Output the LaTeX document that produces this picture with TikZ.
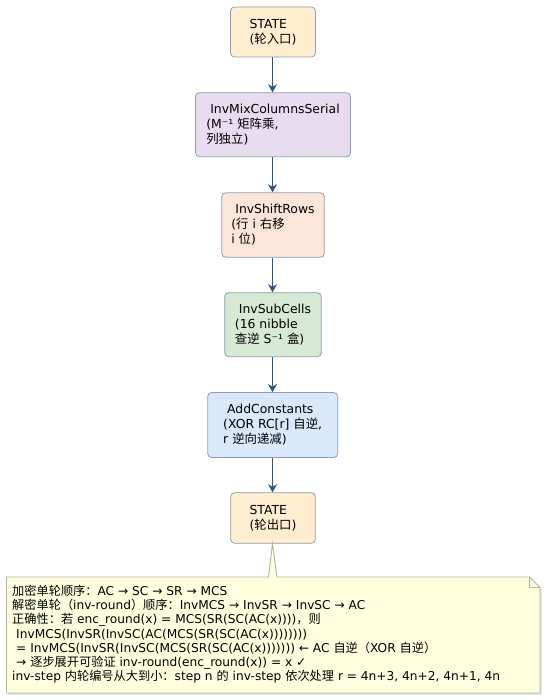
\documentclass[tikz,border=0pt]{standalone}
\usepackage{fontspec}
\setmainfont{DejaVu Sans}
\newfontfamily\cjk{Noto Sans CJK SC}
\usetikzlibrary{arrows.meta}
\definecolor{bordercol}{HTML}{8C9DB5}
\definecolor{statefill}{HTML}{FFEDCF}
\definecolor{mixfill}{HTML}{E7DCF0}
\definecolor{shiftfill}{HTML}{FAE5D8}
\definecolor{subfill}{HTML}{D6E9D4}
\definecolor{acfill}{HTML}{DAE8FB}
\definecolor{arrowcol}{HTML}{2C5784}
\definecolor{notefill}{HTML}{FFFFDF}
\definecolor{noteborder}{HTML}{B4B4A4}
\begin{document}
\begin{tikzpicture}[x=1pt,y=-1pt,
  opbox/.style={draw=bordercol, line width=0.8pt, rounded corners=4pt, align=left, inner sep=0pt,
    font=\fontsize{12.4}{15}\selectfont},
  flow/.style={draw=arrowcol, line width=1.2pt, -{Stealth[length=8pt,width=9pt,inset=2.5pt]}},
  notetext/.style={align=left, inner sep=0pt, anchor=north west, font=\fontsize{12.2}{14.2}\selectfont}
]
\useasboundingbox (0,0) rectangle (547,700);
\fill[white] (0,0) rectangle (547,700);

\node[opbox, fill=statefill, minimum width=85pt, minimum height=50pt] (s1) at (273,32) {STATE\\({\cjk 轮入口})};
\node[opbox, fill=mixfill, minimum width=155pt, minimum height=64pt] (mix) at (273,124.7) {\hspace*{4pt}InvMixColumnsSerial\\(M⁻¹ {\cjk 矩阵乘},\\{\cjk 列独立})};
\node[opbox, fill=shiftfill, minimum width=102.6pt, minimum height=64.6pt] (shift) at (273,225) {\hspace*{4pt}InvShiftRows\\({\cjk 行} i {\cjk 右移}\\i {\cjk 位})};
\node[opbox, fill=subfill, minimum width=96.6pt, minimum height=64pt] (sub) at (273,324.7) {\hspace*{4pt}InvSubCells\\(16 nibble\\{\cjk 查逆} S⁻¹ {\cjk 盒})};
\node[opbox, fill=acfill, minimum width=130pt, minimum height=65pt] (ac) at (272.7,425) {\hspace*{4pt}AddConstants\\(XOR RC[r] {\cjk 自逆},\\r {\cjk 逆向递减})};
\node[opbox, fill=statefill, minimum width=84.6pt, minimum height=50.6pt] (s2) at (273,518) {STATE\\({\cjk 轮出口})};

\draw[flow] (s1.south -| 272.5,0) -- (mix.north -| 272.5,0);
\draw[flow] (mix.south -| 272.5,0) -- (shift.north -| 272.5,0);
\draw[flow] (shift.south -| 272.5,0) -- (sub.north -| 272.5,0);
\draw[flow] (sub.south -| 272.5,0) -- (ac.north -| 272.5,0);
\draw[flow] (ac.south -| 272.5,0) -- (s2.north -| 272.5,0);

% callout
\coordinate (tip) at (s2.south -| 272.5,0);
\coordinate (nl) at (6.5,577);
\coordinate (nr) at (540,693);
\fill[black!14] ([shift={(1.5,1.5)}]nl) -- (270,578.5) -- (277,578.5) -- (531,578.5) -- (541.5,589) -- ([shift={(1.5,1.5)}]nr) -- (8,694.5) -- cycle;
\draw[noteborder, fill=notefill, line width=0.9pt, line join=miter]
  (nl) -- (268.5,577) -- (tip) -- (277,577) -- (529.5,577) -- (540,587.5) -- (nr) -- (6.5,693) -- cycle;
\draw[noteborder, line width=0.9pt] (529.5,577) -- (529.5,587.5) -- (540,587.5);

\node[notetext] (note) at (12,585) {{\cjk 加密单轮顺序：}AC → SC → SR → MCS\\
{\cjk 解密单轮（}inv-round{\cjk ）顺序：}InvMCS → InvSR → InvSC → AC\\
{\cjk 正确性：若} enc\_round(x) = MCS(SR(SC(AC(x)))){\cjk ，则}\\
\hspace*{4pt}InvMCS(InvSR(InvSC(AC(MCS(SR(SC(AC(x))))))))\\
\hspace*{4pt}= InvMCS(InvSR(InvSC(MCS(SR(SC(AC(x))))))) ← AC {\cjk 自逆（}XOR {\cjk 自逆）}\\
\hspace*{4pt}→ {\cjk 逐步展开可验证} inv-round(enc\_round(x)) = x ✓\\
inv-step {\cjk 内轮编号从大到小：}step n {\cjk 的} inv-step {\cjk 依次处理} r = 4n+3, 4n+2, 4n+1, 4n};
\end{tikzpicture}
\end{document}
